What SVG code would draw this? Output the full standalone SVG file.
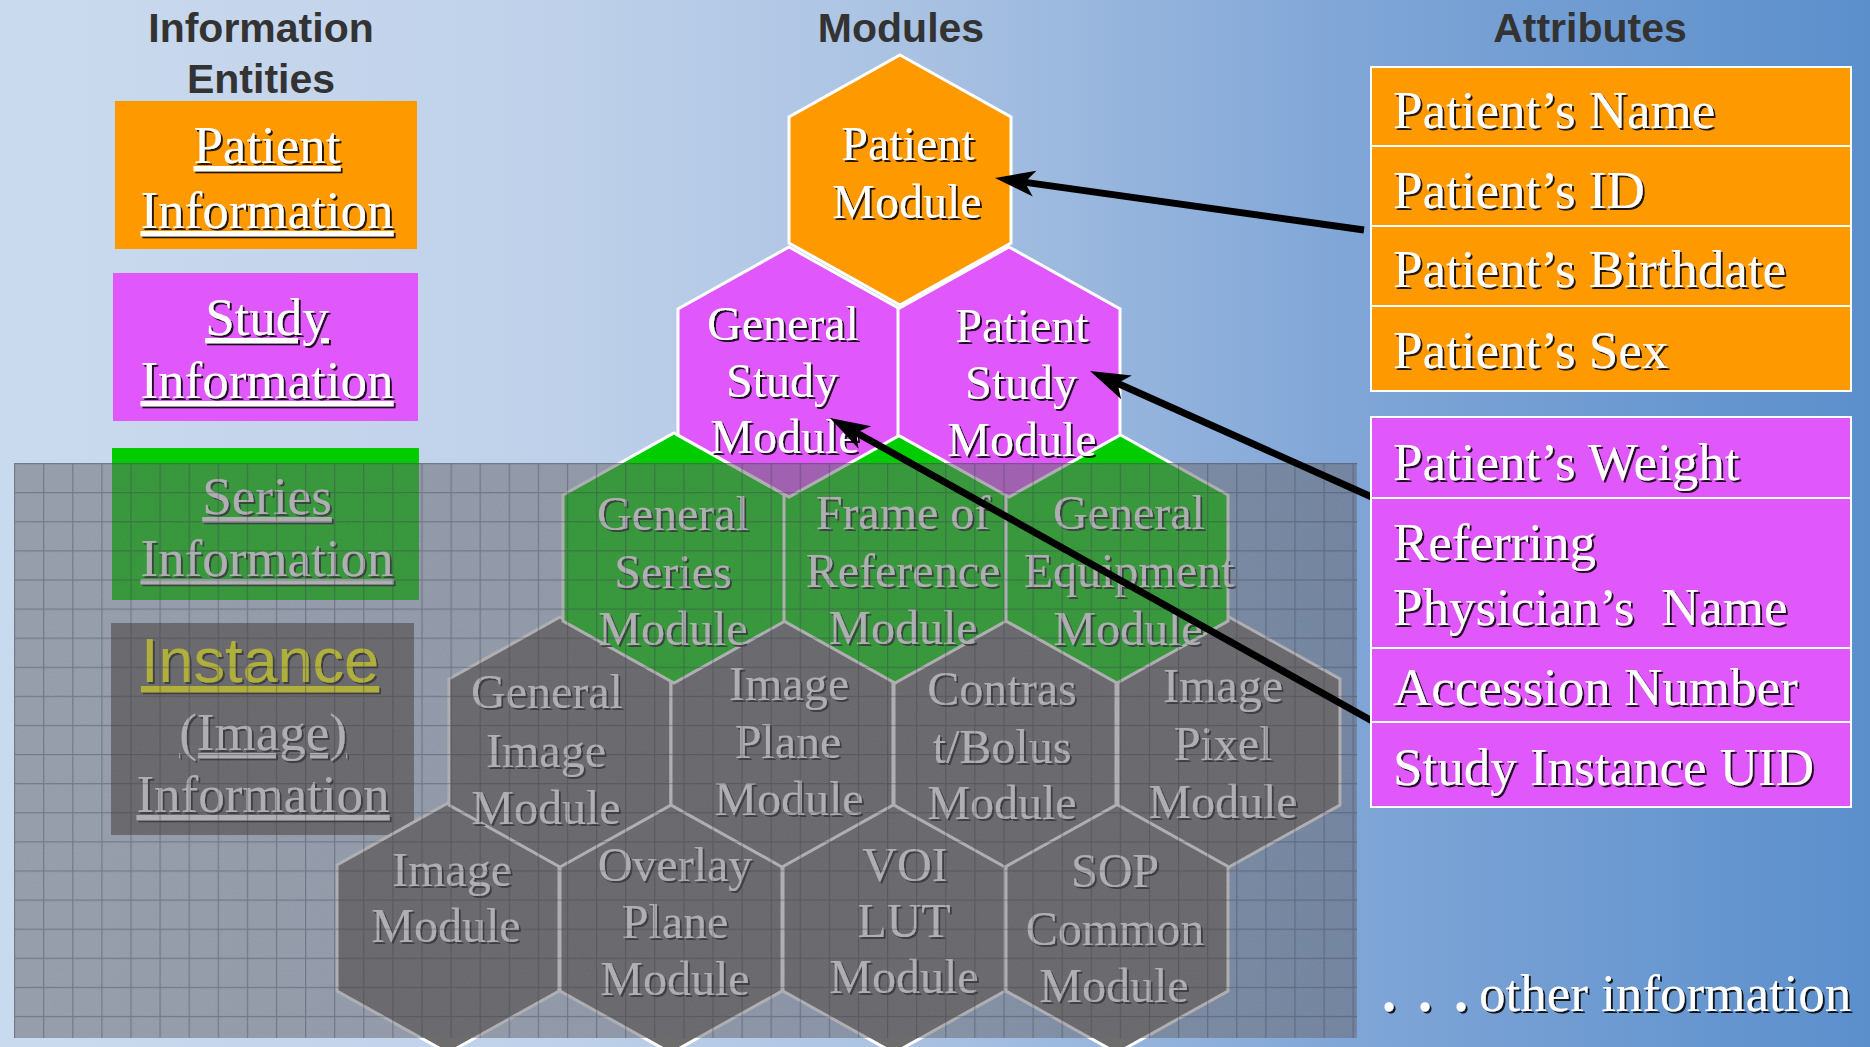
<svg xmlns="http://www.w3.org/2000/svg" width="1870" height="1047" viewBox="0 0 1870 1047">
<defs>
<linearGradient id="bg" x1="0" y1="0" x2="1" y2="0">
<stop offset="0" stop-color="#cadaee"/>
<stop offset="0.3" stop-color="#bfd1ea"/>
<stop offset="0.5" stop-color="#a8c1e2"/>
<stop offset="0.72" stop-color="#80a6d7"/>
<stop offset="1" stop-color="#5b8fcc"/>
</linearGradient>
<pattern id="grid" x="14" y="463" width="29.1" height="29.1" patternUnits="userSpaceOnUse">
<path d="M0.6 0V29.1M0 0.6H29.1" stroke="#2c3344" stroke-opacity="0.38" stroke-width="1.2" fill="none"/>
</pattern>
<filter id="noise" x="14" y="463" width="1343" height="575" filterUnits="userSpaceOnUse">
<feTurbulence type="fractalNoise" baseFrequency="0.85" numOctaves="2" seed="4"/>
<feColorMatrix type="matrix" values="0.33 0.33 0.33 0 -0.05  0.33 0.33 0.33 0 -0.05  0.33 0.33 0.33 0 -0.05  0 0 0 0 0.09"/>
</filter>
<filter id="sh" x="-5%" y="-20%" width="115%" height="150%">
<feDropShadow dx="2" dy="2" stdDeviation="0.4" flood-color="#000" flood-opacity="0.85"/>
</filter>
<marker id="ah" viewBox="-20 -15 45 30" refX="0" refY="0" markerWidth="45" markerHeight="30" markerUnits="userSpaceOnUse" orient="auto">
<path d="M22,0 L-18,-13 L-8,0 L-18,13 Z" fill="#000"/>
</marker>
<style>
.title{font-family:"Liberation Sans",Arial,sans-serif;font-weight:bold;font-size:41px;fill:#333;text-anchor:middle}
.t{font-family:"Liberation Serif","Times New Roman",serif;fill:#fff}
.hx{font-size:48px;text-anchor:middle}
.ent{font-size:53px;text-anchor:middle;text-decoration:underline}
.attr{font-size:53px}
.dot{font-weight:bold;font-size:56px}
.hex{stroke:#fff;stroke-width:3;stroke-linejoin:miter}
.or{fill:#ff9900}
.mg{fill:#e057fb}
.gr{fill:#00cc00}
.gy{fill:#6c6c6c}
.box{stroke:#fff;stroke-width:2}
.conn{fill:none;stroke:#000;stroke-width:7;marker-end:url(#ah)}
</style>
</defs>

<rect x="0" y="0" width="1870" height="1047" fill="url(#bg)"/>

<g id="titles">
<text class="title" x="261" y="42">Information</text>
<text class="title" x="261" y="93">Entities</text>
<text class="title" x="901" y="42">Modules</text>
<text class="title" x="1590" y="42">Attributes</text>
</g>

<g id="ie-patient">
<rect x="115" y="101" width="302" height="148" class="or"/>
<g filter="url(#sh)"><text class="t ent"><tspan x="267" y="163">Patient</tspan><tspan x="267" y="228">Information</tspan></text></g>
</g>
<g id="ie-study">
<rect x="113" y="273" width="305" height="148" class="mg"/>
<g filter="url(#sh)"><text class="t ent"><tspan x="267" y="335">Study</tspan><tspan x="267" y="398">Information</tspan></text></g>
</g>
<g id="ie-series">
<rect x="112" y="448" width="307" height="152" class="gr"/>
<g filter="url(#sh)"><text class="t ent"><tspan x="267" y="514">Series</tspan><tspan x="267" y="576">Information</tspan></text></g>
</g>
<g id="ie-instance">
<rect x="111" y="623" width="303" height="212" class="gy"/>
<g filter="url(#sh)">
<text x="260" y="682" style="font-family:'Liberation Sans',Arial,sans-serif;font-size:63px;fill:#ffff00;text-anchor:middle;text-decoration:underline">Instance</text>
<text class="t ent"><tspan x="263" y="750">(Image)</tspan><tspan x="263" y="812">Information</tspan></text>
</g>
</g>

<g id="modules">
<g id="m-image">
<polygon class="hex gy" transform="translate(448,928)" points="0,-125 111,-63 111,63 0,125 -111,63 -111,-63"/>
<g filter="url(#sh)"><text class="t hx"><tspan x="452" y="886">Image</tspan><tspan x="446" y="942">Module</tspan></text></g>
</g>
<g id="m-overlay-plane">
<polygon class="hex gy" transform="translate(671,928)" points="0,-125 111,-63 111,63 0,125 -111,63 -111,-63"/>
<g filter="url(#sh)"><text class="t hx"><tspan x="675" y="881">Overlay</tspan><tspan x="675" y="938">Plane</tspan><tspan x="675" y="995">Module</tspan></text></g>
</g>
<g id="m-voi-lut">
<polygon class="hex gy" transform="translate(894,928)" points="0,-125 111,-63 111,63 0,125 -111,63 -111,-63"/>
<g filter="url(#sh)"><text class="t hx"><tspan x="905" y="881">VOI</tspan><tspan x="904" y="937">LUT</tspan><tspan x="904" y="993">Module</tspan></text></g>
</g>
<g id="m-sop-common">
<polygon class="hex gy" transform="translate(1117,928)" points="0,-125 111,-63 111,63 0,125 -111,63 -111,-63"/>
<g filter="url(#sh)"><text class="t hx"><tspan x="1115" y="887">SOP</tspan><tspan x="1115" y="945">Common</tspan><tspan x="1114" y="1002">Module</tspan></text></g>
</g>

<g id="m-general-image">
<polygon class="hex gy" transform="translate(560,742)" points="0,-125 111,-63 111,63 0,125 -111,63 -111,-63"/>
<g filter="url(#sh)"><text class="t hx"><tspan x="547" y="708">General</tspan><tspan x="546" y="767">Image</tspan><tspan x="546" y="824">Module</tspan></text></g>
</g>
<g id="m-image-plane">
<polygon class="hex gy" transform="translate(782,742)" points="0,-125 111,-63 111,63 0,125 -111,63 -111,-63"/>
<g filter="url(#sh)"><text class="t hx"><tspan x="789" y="700">Image</tspan><tspan x="788" y="758">Plane</tspan><tspan x="789" y="815">Module</tspan></text></g>
</g>
<g id="m-contrast-bolus">
<polygon class="hex gy" transform="translate(1005,742)" points="0,-125 111,-63 111,63 0,125 -111,63 -111,-63"/>
<g filter="url(#sh)"><text class="t hx"><tspan x="1002" y="705">Contras</tspan><tspan x="1002" y="763">t/Bolus</tspan><tspan x="1002" y="819">Module</tspan></text></g>
</g>
<g id="m-image-pixel">
<polygon class="hex gy" transform="translate(1229,742)" points="0,-125 111,-63 111,63 0,125 -111,63 -111,-63"/>
<g filter="url(#sh)"><text class="t hx"><tspan x="1223" y="702">Image</tspan><tspan x="1223" y="760">Pixel</tspan><tspan x="1223" y="818">Module</tspan></text></g>
</g>

<g id="m-general-series">
<polygon class="hex gr" transform="translate(674,558)" points="0,-125 111,-63 111,63 0,125 -111,63 -111,-63"/>
<g filter="url(#sh)"><text class="t hx"><tspan x="673" y="530">General</tspan><tspan x="673" y="588">Series</tspan><tspan x="673" y="645">Module</tspan></text></g>
</g>
<g id="m-frame-of-reference">
<polygon class="hex gr" transform="translate(895,558)" points="0,-125 111,-63 111,63 0,125 -111,63 -111,-63"/>
<g filter="url(#sh)"><text class="t hx"><tspan x="903" y="529">Frame of</tspan><tspan x="903" y="587">Reference</tspan><tspan x="903" y="644">Module</tspan></text></g>
</g>
<g id="m-general-equipment">
<polygon class="hex gr" transform="translate(1117,558)" points="0,-125 111,-63 111,63 0,125 -111,63 -111,-63"/>
<g filter="url(#sh)"><text class="t hx"><tspan x="1129" y="529">General</tspan><tspan x="1129" y="587">Equipment</tspan><tspan x="1128" y="645">Module</tspan></text></g>
</g>

<g id="m-general-study">
<polygon class="hex mg" transform="translate(789,372)" points="0,-125 111,-63 111,63 0,125 -111,63 -111,-63"/>
<g filter="url(#sh)"><text class="t hx"><tspan x="783" y="340">General</tspan><tspan x="782" y="397">Study</tspan><tspan x="785" y="453">Module</tspan></text></g>
</g>
<g id="m-patient-study">
<polygon class="hex mg" transform="translate(1009,372)" points="0,-125 111,-63 111,63 0,125 -111,63 -111,-63"/>
<g filter="url(#sh)"><text class="t hx"><tspan x="1022" y="342">Patient</tspan><tspan x="1021" y="399">Study</tspan><tspan x="1022" y="456">Module</tspan></text></g>
</g>

<g id="m-patient">
<polygon class="hex or" transform="translate(900,180)" points="0,-125 111,-63 111,63 0,125 -111,63 -111,-63"/>
<g filter="url(#sh)"><text class="t hx"><tspan x="908" y="160">Patient</tspan><tspan x="907" y="218">Module</tspan></text></g>
</g>
</g>

<g id="overlay">
<rect x="14" y="463" width="1343" height="575" fill="#5c5c64" fill-opacity="0.49"/>
<rect x="14" y="463" width="1343" height="575" fill="url(#grid)"/>
<rect x="14" y="463" width="1343" height="575" fill="#000" filter="url(#noise)"/>
</g>

<g id="connectors">
<path class="conn" d="M1364,230 L1016.8,181.1"/>
<path class="conn" d="M1374,498 L1110.1,380"/>
<path class="conn" d="M1374,722 L849.2,428.7"/>
</g>

<g id="attr-patient">
<rect x="1371" y="67" width="480" height="324" class="box or"/>
<path d="M1371 146H1851M1371 226H1851M1371 306H1851" stroke="#fff" stroke-width="2"/>
<g filter="url(#sh)">
<text class="t attr" x="1393" y="128">Patient’s Name</text>
<text class="t attr" x="1393" y="208">Patient’s ID</text>
<text class="t attr" x="1393" y="287">Patient’s Birthdate</text>
<text class="t attr" x="1393" y="368">Patient’s Sex</text>
</g>
</g>

<g id="attr-study">
<rect x="1371" y="417" width="480" height="390" class="box mg"/>
<path d="M1371 498H1851M1371 648H1851M1371 722H1851" stroke="#fff" stroke-width="2"/>
<g filter="url(#sh)">
<text class="t attr" x="1393" y="480">Patient’s Weight</text>
<text class="t attr" style="white-space:pre"><tspan x="1393" y="560">Referring</tspan><tspan x="1393" y="625">Physician’s  Name</tspan></text>
<text class="t attr" x="1393" y="705">Accession Number</text>
<text class="t attr" x="1393" y="785">Study Instance UID</text>
</g>
</g>

<g id="other-info" filter="url(#sh)">
<text class="t attr"><tspan class="dot" x="1382" y="1011">. </tspan><tspan class="dot" x="1418" y="1011">. </tspan><tspan class="dot" x="1454" y="1011">.</tspan><tspan x="1479" y="1011">other information</tspan></text>
</g>
</svg>
